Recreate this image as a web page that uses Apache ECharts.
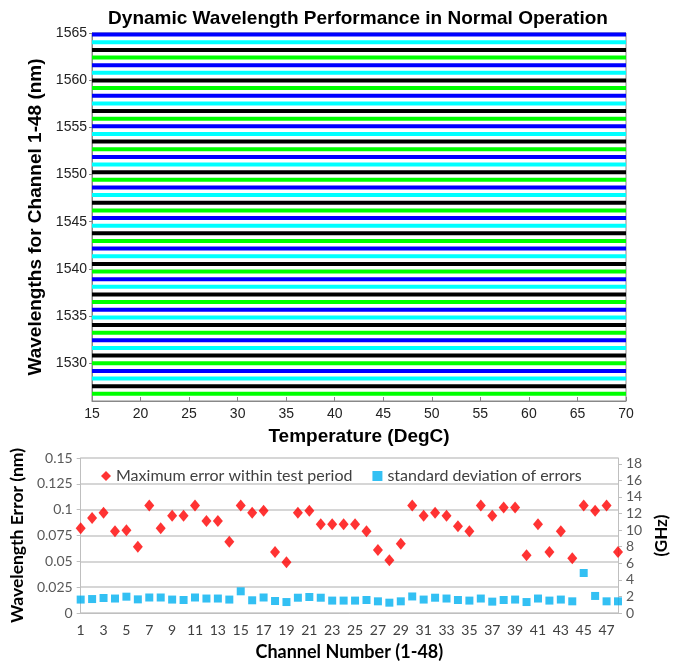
<!DOCTYPE html>
<html>
<head>
<meta charset="utf-8">
<script src="https://cdn.jsdelivr.net/npm/echarts@6/dist/echarts.min.js"></script>
<style>
html,body{margin:0;padding:0;background:#fff;}
#c{width:686px;height:666px;}
</style>
</head>
<body>
<div id="c"></div>
<script>
// ---------- DATA ----------
// Top chart: channel centre wavelengths (nm), channel order bottom to top
var channelWavelengths = [
  1526.76, 1527.57, 1528.38, 1529.19, 1530.00, 1530.81, 1531.62, 1532.43,
  1533.24, 1534.05, 1534.86, 1535.67, 1536.48, 1537.29, 1538.10, 1538.91,
  1539.72, 1540.53, 1541.34, 1542.15, 1542.96, 1543.77, 1544.58, 1545.39,
  1546.20, 1547.01, 1547.82, 1548.63, 1549.44, 1550.25, 1551.06, 1551.87,
  1552.68, 1553.49, 1554.30, 1555.11, 1555.92, 1556.73, 1557.54, 1558.35,
  1559.16, 1559.97, 1560.78, 1561.59, 1562.40, 1563.21, 1564.02, 1564.83
];
var temperatureRange = [15, 70];
var topYTicks = [1530, 1535, 1540, 1545, 1550, 1555, 1560, 1565];

// Bottom chart
var channels = [];
for (var i = 1; i <= 48; i++) channels.push(String(i));
var maxError = [
  0.082, 0.092, 0.097, 0.079, 0.080, 0.064, 0.104, 0.082,
  0.094, 0.094, 0.104, 0.089, 0.089, 0.069, 0.104, 0.097,
  0.099, 0.059, 0.049, 0.097, 0.099, 0.086, 0.086, 0.086,
  0.086, 0.079, 0.061, 0.051, 0.067, 0.104, 0.094, 0.097,
  0.094, 0.084, 0.079, 0.104, 0.094, 0.102, 0.102, 0.056,
  0.086, 0.059, 0.079, 0.053, 0.104, 0.099, 0.104, 0.059
];
var stdError = [
  0.013, 0.0135, 0.0145, 0.014, 0.0158, 0.0132, 0.015, 0.015,
  0.013, 0.0126, 0.015, 0.014, 0.014, 0.013, 0.021, 0.0123,
  0.015, 0.0116, 0.0106, 0.0148, 0.0155, 0.0148, 0.012, 0.012,
  0.012, 0.0126, 0.0113, 0.010, 0.0113, 0.016, 0.013, 0.0148,
  0.014, 0.0126, 0.012, 0.014, 0.011, 0.0126, 0.013, 0.0106,
  0.014, 0.012, 0.013, 0.0113, 0.0387, 0.0165, 0.0113, 0.0113
];
var ghzTicks = [0, 2, 4, 6, 8, 10, 12, 14, 16, 18];

// ---------- STYLE ----------
var lineColors = ['#00ff00', '#000000', '#00ffff', '#0000ff'];
var topFont = 'Liberation Sans, Arial, sans-serif';
var botFont = 'Lato, Open Sans, sans-serif';

var series = [];
channelWavelengths.forEach(function (w, idx) {
  series.push({
    type: 'line',
    xAxisIndex: 0, yAxisIndex: 0,
    data: [[temperatureRange[0], w], [temperatureRange[1], w]],
    showSymbol: false, symbol: 'none',
    silent: true,
    lineStyle: { color: lineColors[idx % 4], width: 4 },
    z: 2
  });
});
series.push({
  name: 'Maximum error within test period',
  type: 'scatter', xAxisIndex: 1, yAxisIndex: 1,
  data: maxError, symbol: 'diamond', symbolSize: [10, 12],
  itemStyle: { color: '#ff0000' }
});
series.push({
  name: 'standard deviation of errors',
  type: 'scatter', xAxisIndex: 1, yAxisIndex: 1,
  data: stdError, symbol: 'rect', symbolSize: 8,
  itemStyle: { color: '#00b0f0' }
});

var chart = echarts.init(document.getElementById('c'), null, { renderer: 'canvas' });
chart.setOption({
  animation: false,
  backgroundColor: '#fff',
  title: {
    text: 'Dynamic Wavelength Performance in Normal Operation',
    left: 353, textAlign: 'center', top: 4,
    textStyle: { fontFamily: topFont, fontSize: 19, fontWeight: 'bold', color: '#000' }
  },
  legend: {
    data: ['Maximum error within test period', 'standard deviation of errors'],
    left: 96, top: 463, itemGap: 20, itemWidth: 10, itemHeight: 10,
    textStyle: { fontFamily: botFont, fontSize: 16, color: '#404040' }
  },
  grid: [
    { left: 92, right: 60, top: 33, bottom: 265, show: true, borderColor: '#888', borderWidth: 1 },
    { left: 80, right: 68, top: 458, bottom: 53 }
  ],
  xAxis: [
    {
      gridIndex: 0, type: 'value', min: 15, max: 70, interval: 5,
      name: 'Temperature (DegC)', nameLocation: 'middle', nameGap: 26,
      nameTextStyle: { fontFamily: topFont, fontSize: 19, fontWeight: 'bold', color: '#000' },
      axisLine: { show: true, lineStyle: { color: '#888' } },
      axisTick: { show: true, inside: true, length: 4, lineStyle: { color: '#888' } },
      axisLabel: { fontFamily: topFont, fontSize: 14, color: '#222', margin: 6 },
      splitLine: { show: false }
    },
    {
      gridIndex: 1, type: 'category', data: channels, boundaryGap: false,
      name: 'Channel Number (1-48)', nameLocation: 'middle', nameGap: 30,
      nameTextStyle: { fontFamily: botFont, fontSize: 18, fontWeight: 'bold', color: '#000' },
      axisLine: { show: true, lineStyle: { color: '#bfbfbf' } },
      axisTick: { show: false },
      axisLabel: { interval: 1, fontFamily: botFont, fontSize: 14, color: '#404040', margin: 10 },
      splitLine: { show: false }
    }
  ],
  yAxis: [
    {
      gridIndex: 0, type: 'value', min: 1526, max: 1565,
      name: 'Wavelengths for Channel 1-48 (nm)', nameLocation: 'middle', nameGap: 33, nameRotate: 90,
      nameTextStyle: { fontFamily: topFont, fontSize: 19, fontWeight: 'bold', color: '#000' },
      axisLine: { show: true, lineStyle: { color: '#888' } },
      axisTick: { show: true, length: 3, customValues: topYTicks, lineStyle: { color: '#888' } },
      axisLabel: {
        customValues: topYTicks, fontFamily: topFont, fontSize: 14, color: '#222', margin: 5,
        formatter: function (v) { return String(v); }
      },
      splitLine: { show: false }
    },
    {
      gridIndex: 1, type: 'value', min: 0, max: 0.15, interval: 0.025,
      name: 'Wavelength Error (nm)', nameLocation: 'middle', nameGap: 50, nameRotate: 90,
      nameTextStyle: { fontFamily: botFont, fontSize: 17.5, fontWeight: 'bold', color: '#000' },
      axisLine: { show: true, lineStyle: { color: '#bfbfbf' } },
      axisTick: { show: true, length: 4, lineStyle: { color: '#bfbfbf' } },
      axisLabel: { fontFamily: botFont, fontSize: 14, color: '#595959', margin: 8 },
      splitLine: { show: true, lineStyle: { color: '#c8c8c8', width: 1.5 } }
    },
    {
      gridIndex: 1, type: 'value', min: 0, max: 18.7, position: 'right',
      name: '(GHz)', nameLocation: 'middle', nameGap: 30, nameRotate: 90,
      nameTextStyle: { fontFamily: botFont, fontSize: 17, fontWeight: 'bold', color: '#000' },
      axisLine: { show: true, lineStyle: { color: '#bfbfbf' } },
      axisTick: { show: true, length: 4, customValues: ghzTicks, lineStyle: { color: '#bfbfbf' } },
      axisLabel: { customValues: ghzTicks, fontFamily: botFont, fontSize: 14, color: '#595959', margin: 8 },
      splitLine: { show: false }
    }
  ],
  series: series
});
</script>
</body>
</html>
